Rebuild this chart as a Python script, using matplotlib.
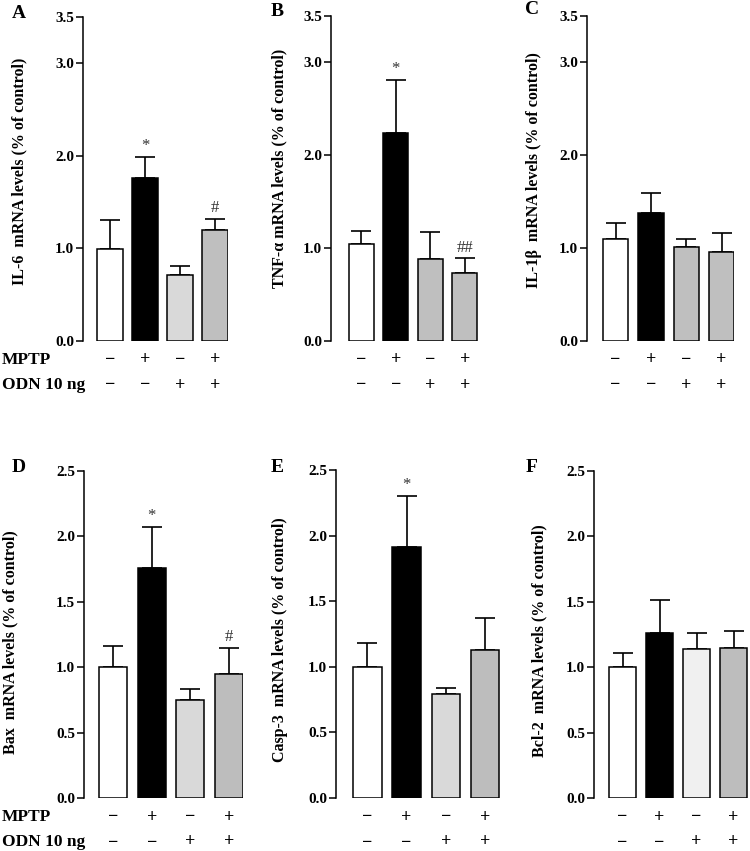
import matplotlib
matplotlib.use("Agg")
import matplotlib.pyplot as plt
import matplotlib.transforms as mtransforms

plt.rcParams['font.family'] = ['Liberation Serif', 'DejaVu Serif']
plt.rcParams['font.weight'] = 'bold'

# treatment rows under each panel
mptp_signs = ['−', '+', '−', '+']
odn_signs = ['−', '−', '+', '+']
row_names = ['MPTP', 'ODN 10 ng']

# panel data (mean, mean + SEM)
panel_letters = ['A', 'B', 'C', 'D', 'E', 'F']
ylabels = ['IL-6  mRNA levels (% of control)',
           'TNF-α mRNA levels (% of control)',
           'IL-1β  mRNA levels (% of control)',
           'Bax  mRNA levels (% of control)',
           'Casp-3  mRNA levels (% of control)',
           'Bcl-2  mRNA levels (% of control)']

il6_mean = [0.99, 1.76, 0.71, 1.20]
il6_top = [1.31, 1.99, 0.81, 1.32]
tnf_mean = [1.04, 2.24, 0.88, 0.73]
tnf_top = [1.19, 2.81, 1.17, 0.89]
il1b_mean = [1.10, 1.38, 1.01, 0.96]
il1b_top = [1.27, 1.59, 1.10, 1.16]
bax_mean = [1.00, 1.76, 0.75, 0.95]
bax_top = [1.16, 2.07, 0.83, 1.15]
casp3_mean = [1.00, 1.91, 0.79, 1.13]
casp3_top = [1.18, 2.30, 0.84, 1.37]
bcl2_mean = [1.00, 1.26, 1.14, 1.15]
bcl2_top = [1.11, 1.51, 1.26, 1.28]

il6_marks = ['', '*', '', '#']
tnf_marks = ['', '*', '', '##']
il1b_marks = ['', '', '', '']
bax_marks = ['', '*', '', '#']
casp3_marks = ['', '*', '', '']
bcl2_marks = ['', '', '', '']

means = [il6_mean, tnf_mean, il1b_mean, bax_mean, casp3_mean, bcl2_mean]
tops = [il6_top, tnf_top, il1b_top, bax_top, casp3_top, bcl2_top]
marks = [il6_marks, tnf_marks, il1b_marks, bax_marks, casp3_marks, bcl2_marks]

top_ticks = [0, 1, 2, 3, 3.5]
bottom_ticks = [0, 0.5, 1.0, 1.5, 2.0, 2.5]

# layout in pixels (figure 750 x 851): axes box x0, x1, y_top, y_bottom
W, H = 750, 851
boxes = [(83, 228, 17, 341), (331, 478, 16, 341), (587, 734, 16, 341),
         (84, 243, 471, 798), (336, 500, 470, 798), (594, 748, 471, 798)]
xlims = [(-0.77, 3.37), (-0.88, 3.38), (-0.81, 3.35),
         (-0.75, 3.36), (-0.80, 3.38), (-0.77, 3.39)]
# right edge (x) and centre (y) of each rotated y label
label_pos = [(27, 171), (287, 168), (542, 170), (18, 642), (288, 640), (547, 641)]
letter_pos = [(19, 13), (277, 12), (532, 9), (19, 467), (277, 467), (532, 467)]
colors = [['white', 'black', '#d9d9d9', '#bfbfbf'],
          ['white', 'black', '#bfbfbf', '#bfbfbf'],
          ['white', 'black', '#bfbfbf', '#bfbfbf'],
          ['white', 'black', '#d9d9d9', '#bdbdbd'],
          ['white', 'black', '#d9d9d9', '#bdbdbd'],
          ['white', 'black', '#f0f0f0', '#bdbdbd']]

fig = plt.figure(figsize=(W / 100, H / 100), dpi=100)
x = [0, 1, 2, 3]

for i in range(6):
    x0, x1, yt, yb = boxes[i]
    ax = fig.add_axes([x0 / W, 1 - yb / H, (x1 - x0) / W, (yb - yt) / H])
    ax.bar(x, means[i], width=0.72, color=colors[i], edgecolor='black',
           linewidth=1.1, zorder=3)
    err_up = [t - m for t, m in zip(tops[i], means[i])]
    ax.errorbar(x, means[i], yerr=[[0] * 4, err_up], fmt='none', ecolor='black',
                elinewidth=1.2, capsize=7, capthick=1.2, zorder=2)
    for xi, t, mk in zip(x, tops[i], marks[i]):
        if mk:
            ax.annotate(mk, (xi, t), xytext=(0, 2), textcoords='offset points',
                        ha='center', va='bottom', fontsize=12,
                        fontweight='normal', color='#333333')

    ticks = top_ticks if i < 3 else bottom_ticks
    ax.set_ylim(0, ticks[-1])
    ax.set_yticks(ticks)
    ax.set_yticklabels([f'{t:.1f}' for t in ticks], fontsize=11, fontweight='bold')
    ax.set_xlim(*xlims[i])
    ax.set_xticks([])
    for s in ['top', 'right', 'bottom']:
        ax.spines[s].set_visible(False)
    ax.spines['left'].set_linewidth(1.1)
    ax.tick_params(axis='y', length=5, width=1.1, pad=1.5)

    ax.set_ylabel(ylabels[i], fontsize=11.5, fontweight='bold')
    lx, ly = label_pos[i]
    ax.yaxis.set_label_coords(lx / W, 1 - ly / H, transform=fig.transFigure)

    tx, ty = letter_pos[i]
    fig.text(tx / W, 1 - ty / H, panel_letters[i], fontsize=14,
             fontweight='bold', ha='center', va='center')

    # treatment signs under the bars
    trans = mtransforms.blended_transform_factory(ax.transData, fig.transFigure)
    for xi, a, b in zip(x, mptp_signs, odn_signs):
        ax.text(xi, 1 - (yb + 19) / H, a, transform=trans, ha='center',
                va='center', fontsize=13, fontweight='bold')
        ax.text(xi, 1 - (yb + 44) / H, b, transform=trans, ha='center',
                va='center', fontsize=13, fontweight='bold')

    if i % 3 == 0:
        fig.text(2 / W, 1 - (yb + 19) / H, row_names[0], fontsize=12.5,
                 fontweight='bold', ha='left', va='center')
        fig.text(2 / W, 1 - (yb + 44) / H, row_names[1], fontsize=12.5,
                 fontweight='bold', ha='left', va='center')

fig.savefig('out.png', dpi=100, facecolor='white')
